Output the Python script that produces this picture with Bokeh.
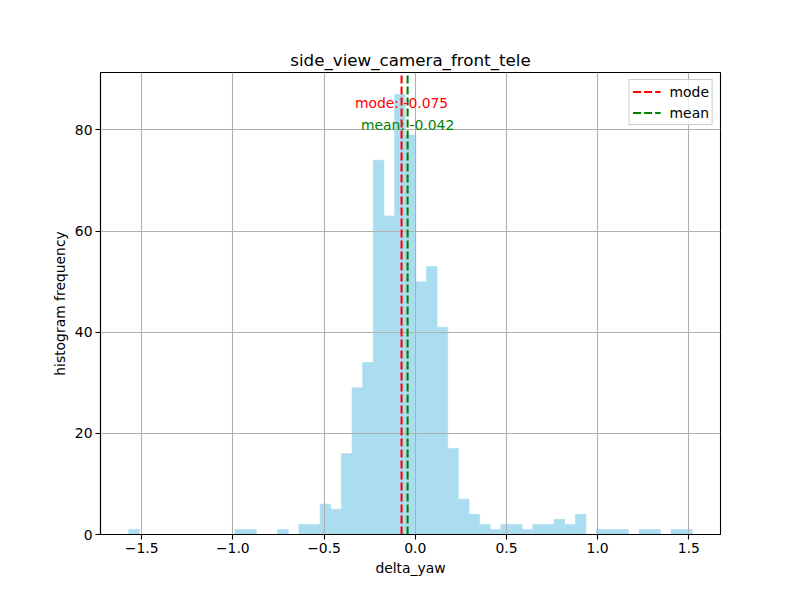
from bokeh.plotting import figure
from bokeh.models import Range1d, FixedTicker, Legend, LegendItem, ColumnDataSource
from bokeh.core.properties import value
from bokeh.embed import file_html
from bokeh.resources import INLINE

# ---- data ----
title = "side_view_camera_front_tele"
bin_start = -1.571
bin_width = 0.0583
counts = [1, 0, 0, 0, 0, 0, 0, 0, 0, 0,
          1, 1, 0, 0, 1, 0, 2, 2, 6, 5,
          16, 29, 34, 74, 63, 87, 79, 50, 53, 41,
          17, 7, 4, 2, 1, 2, 2, 1, 2, 2,
          3, 2, 4, 0, 1, 1, 1, 0, 1, 1,
          0, 1, 1]
mode_val = -0.075
mean_val = -0.042
x_ticks = [-1.5, -1.0, -0.5, 0.0, 0.5, 1.0, 1.5]
x_tick_labels = ["\u22121.5", "\u22121.0", "\u22120.5", "0.0", "0.5", "1.0", "1.5"]
y_ticks = [0, 20, 40, 60, 80]
y_tick_labels = ["0", "20", "40", "60", "80"]

# ---- derived ----
n = len(counts)
lefts = [bin_start + i * bin_width for i in range(n)]
rights = [l + bin_width for l in lefts]
xmax = bin_start + n * bin_width
span = xmax - bin_start
ymax = max(counts)
ytop = ymax * 1.05

FONT = "DejaVu Sans"
BAR = "#abddf1"

p = figure(width=784, height=584, output_backend="svg", toolbar_location=None,
           x_range=Range1d(bin_start - 0.05 * span, xmax + 0.05 * span),
           y_range=Range1d(0, ytop),
           min_border_left=100, min_border_right=64,
           min_border_top=72, min_border_bottom=50,
           background_fill_color="white", border_fill_color="white")

p.title.text = title
p.title.align = "center"
p.title.text_font = FONT
p.title.text_font_size = "16.7px"
p.title.text_font_style = "normal"
p.title.text_color = "black"
p.title.standoff = 6

src = ColumnDataSource(dict(left=[l for l, c in zip(lefts, counts) if c > 0],
                            right=[r for r, c in zip(rights, counts) if c > 0],
                            top=[c for c in counts if c > 0]))
bars = p.quad(left="left", right="right", top="top", bottom=0, source=src,
              fill_color=BAR, line_color=BAR, line_width=0.6)
bars.level = "image"

mode_r = p.line(x=[mode_val, mode_val], y=[0, ytop], line_color="#ff0000",
                line_width=2.08, line_dash="8 3")
mean_r = p.line(x=[mean_val, mean_val], y=[0, ytop], line_color="#008000",
                line_width=2.08, line_dash="8 3")

p.text(x=[mode_val], y=[ymax * 0.98], text=[f"mode: {mode_val}"],
       text_color="#ff0000", text_align="center", text_baseline="middle",
       text_font=value(FONT), text_font_size="13.9px")
p.text(x=[mean_val], y=[ymax * 0.93], text=[f"mean: {mean_val}"],
       text_color="#008000", text_align="center", text_baseline="middle",
       text_font=value(FONT), text_font_size="13.9px")

legend = Legend(items=[LegendItem(label="mode", renderers=[mode_r]),
                       LegendItem(label="mean", renderers=[mean_r])],
                location="top_right", margin=7, padding=3, spacing=4,
                glyph_width=28, glyph_height=17, label_height=17,
                label_standoff=9,
                label_text_font=FONT, label_text_font_size="13.9px",
                label_text_color="black",
                border_line_color="#cccccc", border_line_alpha=1.0,
                background_fill_color="white", background_fill_alpha=0.8)
p.add_layout(legend, "center")

# axes
p.xaxis.ticker = FixedTicker(ticks=x_ticks)
p.xaxis.major_label_overrides = {t: l for t, l in zip(x_ticks, x_tick_labels)}
p.yaxis.ticker = FixedTicker(ticks=y_ticks)
p.yaxis.major_label_overrides = {t: l for t, l in zip(y_ticks, y_tick_labels)}
p.xaxis.axis_label = "delta_yaw"
p.yaxis.axis_label = "histogram frequency"
for ax in (p.xaxis, p.yaxis):
    ax.axis_label_text_font = FONT
    ax.axis_label_text_font_size = "13.9px"
    ax.axis_label_text_font_style = "normal"
    ax.major_label_text_font = FONT
    ax.major_label_text_font_size = "13.9px"
    ax.major_label_text_color = "black"
    ax.axis_label_text_color = "black"
    ax.major_tick_in = 0
    ax.major_tick_out = 5
    ax.minor_tick_in = 0
    ax.minor_tick_out = 0
    ax.axis_line_color = "black"
    ax.axis_line_width = 1.1
    ax.major_tick_line_color = "black"
    ax.major_tick_line_width = 1.1
    ax.major_label_standoff = 3
    ax.axis_label_standoff = 4
p.yaxis.major_label_orientation = "horizontal"

p.xgrid.ticker = FixedTicker(ticks=x_ticks)
p.ygrid.ticker = FixedTicker(ticks=y_ticks)
for g in (p.xgrid, p.ygrid):
    g.grid_line_color = "#b0b0b0"
    g.grid_line_width = 1.1
    g.grid_line_alpha = 1.0

p.outline_line_color = "black"
p.outline_line_alpha = 1.0
p.outline_line_width = 1.1

open("out.html", "w").write(file_html(p, INLINE))
